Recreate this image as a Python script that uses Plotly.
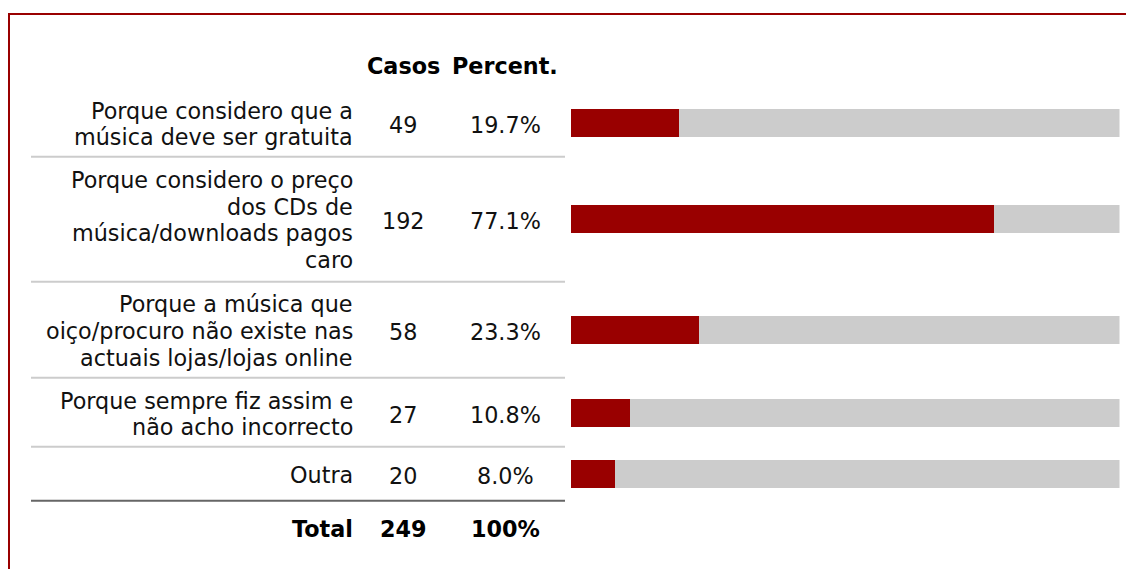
import plotly.graph_objects as go

# ---- data ----
categories = [
    "Porque considero que a<br>música deve ser gratuita",
    "Porque considero o preço<br>dos CDs de<br>música/downloads pagos<br>caro",
    "Porque a música que<br>oiço/procuro não existe nas<br>actuais lojas/lojas online",
    "Porque sempre fiz assim e<br>não acho incorrecto",
    "Outra",
]
casos = [49, 192, 58, 27, 20]
percent = [19.7, 77.1, 23.3, 10.8, 8.0]
total_label = "Total"
total_casos = 249
total_percent = "100%"
header_casos = "Casos"
header_percent = "Percent."

# ---- layout (screen pixel positions) ----
W, H = 1134, 569
OFF = 8  # page body margin
FW, FH = W - OFF, H - OFF
row_y = [123, 219, 330, 413, 474]
total_y = 529
header_y = 65.5
sep_y = [156.7, 281.7, 377.7, 446.7]
dark_sep_y = 500.7
label_right = 354
casos_x = 403
pct_x = 505
line_h = 26.6
bar_x0, bar_x1 = 571, 1119.5
font_fam = "DejaVu Sans, Verdana, sans-serif"
fs = 22.3
txt_col = "#111111"
red = "#990000"
grey = "#cccccc"

fig = go.Figure()
fig.add_trace(go.Bar(
    y=row_y, x=[100] * len(percent), orientation="h", width=28,
    marker=dict(color=grey, line=dict(width=0)), hoverinfo="skip",
    xaxis="x2", yaxis="y",
))
fig.add_trace(go.Bar(
    y=row_y, x=percent, orientation="h", width=28,
    marker=dict(color=red, line=dict(width=0)),
    xaxis="x2", yaxis="y",
))

ann = []
def txt(x, y, s, anchor="center", bold=False):
    ann.append(dict(
        x=x, y=y, xref="x", yref="y", text=f"<b>{s}</b>" if bold else s,
        showarrow=False, xanchor=anchor, yanchor="middle",
        font=dict(family=font_fam, size=fs, color="#000" if bold else txt_col),
        borderpad=0,
    ))

txt(casos_x, header_y, header_casos, bold=True)
txt(pct_x, header_y, header_percent, bold=True)

for cat, c, p, yc in zip(categories, casos, percent, row_y):
    lines = cat.split("<br>")
    n = len(lines)
    for i, ln in enumerate(lines):
        txt(label_right, yc + 1 + (i - (n - 1) / 2) * line_h, ln, anchor="right")
    txt(casos_x, yc + 2, str(c))
    txt(pct_x, yc + 2, f"{p:.1f}%")

txt(label_right, total_y, total_label, anchor="right", bold=True)
txt(casos_x, total_y, str(total_casos), bold=True)
txt(pct_x, total_y, total_percent, bold=True)

shapes = []
for sy in sep_y:
    shapes.append(dict(type="line", xref="x", yref="y", x0=31, x1=565, y0=sy, y1=sy,
                       line=dict(color=grey, width=2)))
shapes.append(dict(type="line", xref="x", yref="y", x0=31, x1=565, y0=dark_sep_y, y1=dark_sep_y,
                   line=dict(color="#666666", width=2)))
shapes.append(dict(type="path", xref="x", yref="y", path=f"M 9 {H} L 9 14 L {W} 14",
                   line=dict(color=red, width=2)))

fig.update_layout(
    width=FW, height=FH, margin=dict(l=0, r=0, t=0, b=0),
    paper_bgcolor="white", plot_bgcolor="rgba(0,0,0,0)",
    barmode="overlay", showlegend=False, bargap=0,
    xaxis=dict(domain=[0, 1], range=[OFF, W], visible=False, fixedrange=True),
    xaxis2=dict(domain=[(bar_x0 - OFF) / FW, (bar_x1 - OFF) / FW], range=[0, 100],
                anchor="y", visible=False, fixedrange=True),
    yaxis=dict(domain=[0, 1], range=[H, OFF], visible=False, fixedrange=True),
    annotations=ann, shapes=shapes,
)
fig.write_html("out.html")
